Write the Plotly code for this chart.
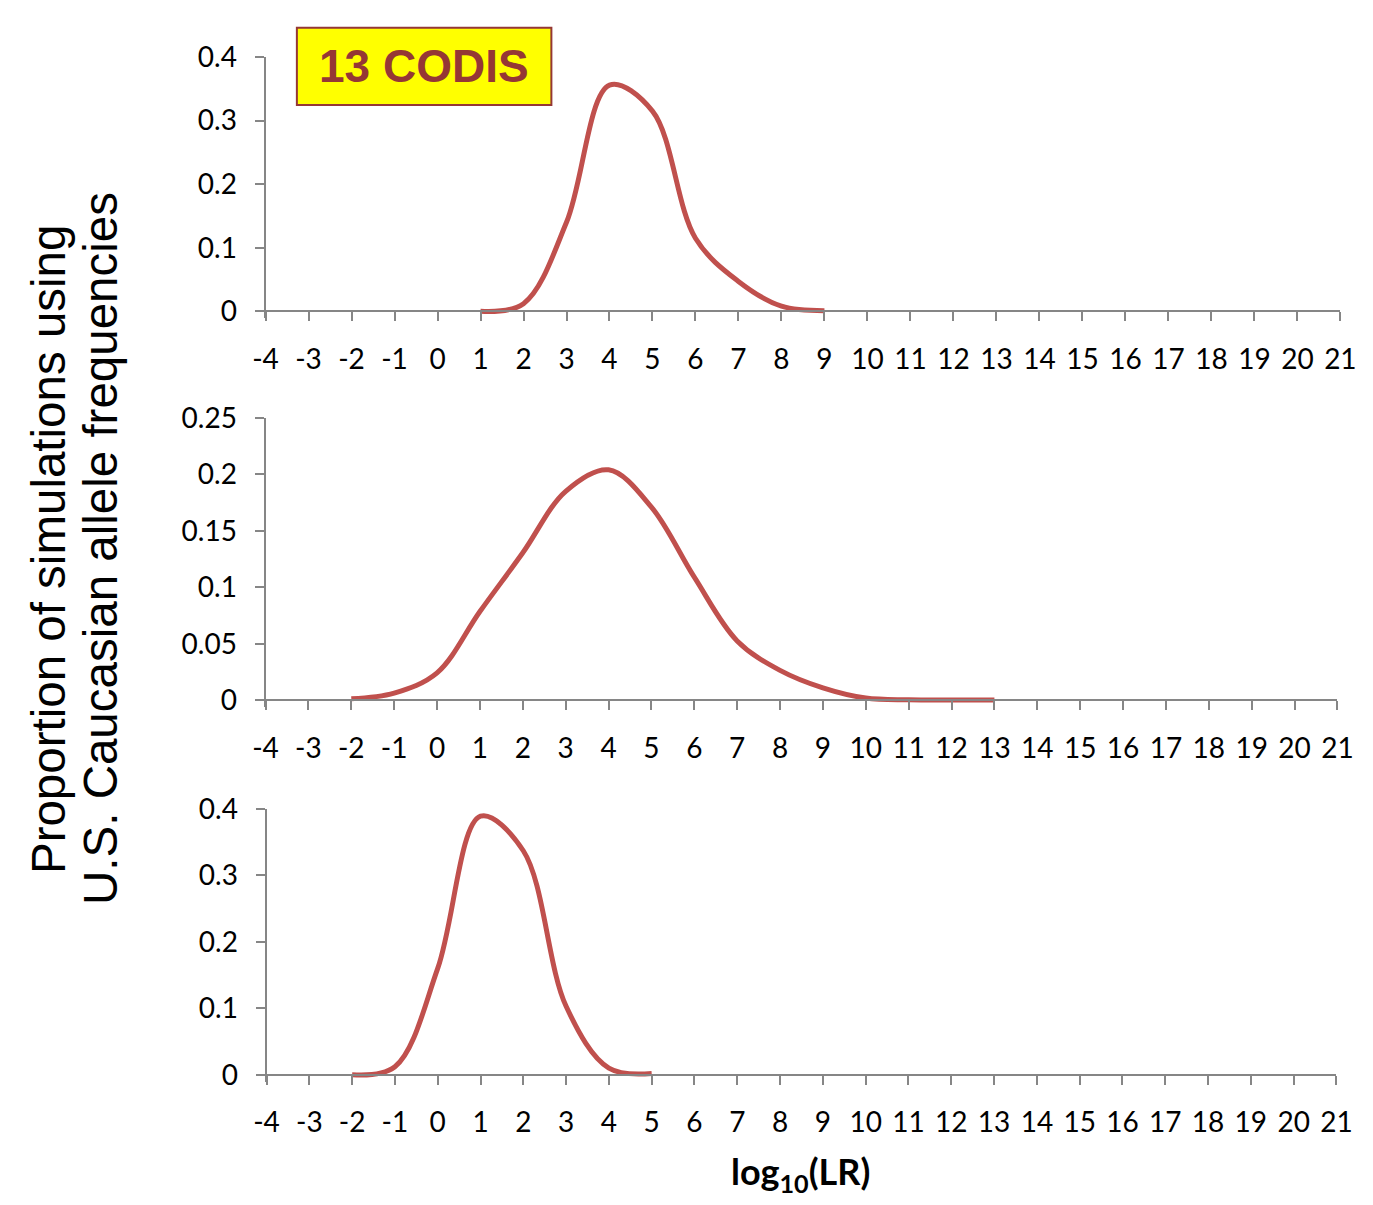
import plotly.graph_objects as go

W, H = 1373, 1205

# ---- data ----
x_top = [1, 2, 3, 4, 5, 6, 7, 8, 9]
y_top = [0.0, 0.012, 0.14, 0.356, 0.315, 0.115, 0.047, 0.008, 0.001]

x_mid = [-2, -1, 0, 1, 2, 3, 4, 5, 6, 7, 8, 9, 10, 11, 12, 13]
y_mid = [0.0014, 0.0064, 0.0243, 0.0786, 0.1306, 0.185, 0.204, 0.171, 0.109,
         0.0526, 0.0265, 0.011, 0.002, 0.0005, 0.0003, 0.0003]

x_bot = [-2, -1, 0, 1, 2, 3, 4, 5]
y_bot = [0.0, 0.012, 0.160, 0.389, 0.337, 0.103, 0.010, 0.002]

x_ticks = list(range(-4, 22))
y_ticks_top = [0, 0.1, 0.2, 0.3, 0.4]
y_ticks_mid = [0, 0.05, 0.1, 0.15, 0.2, 0.25]
y_ticks_bot = [0, 0.1, 0.2, 0.3, 0.4]

y_title_1 = "Proportion of simulations using"
y_title_2 = "U.S. Caucasian allele frequencies"
x_title = "<b>log<sub>10</sub>(LR)</b>"
badge = "<b>13 CODIS</b>"

# ---- layout geometry (pixels) ----
panels = [
    dict(xl=258, xr=1356, ytop=40, yzero=300, ymax=0.4, ticks=y_ticks_top),
    dict(xl=258, xr=1353, ytop=409, yzero=698, ymax=0.25, ticks=y_ticks_mid),
    dict(xl=259, xr=1352, ytop=809, yzero=1081, ymax=0.4, ticks=y_ticks_bot),
]
EXT = 7  # px below zero line kept inside plot area

LINE_COLOR = "#C0504D"
AXIS_COLOR = "#868686"
TICK_FONT = dict(family="Lato, Open Sans, sans-serif", size=28, color="#000000")

fig = go.Figure()
series = [(x_top, y_top), (x_mid, y_mid), (x_bot, y_bot)]
for i, (xs, ys) in enumerate(series):
    suf = "" if i == 0 else str(i + 1)
    fig.add_trace(go.Scatter(
        x=xs, y=ys, mode="lines",
        line=dict(color=LINE_COLOR, width=5, shape="spline", smoothing=1.0),
        xaxis="x" + suf, yaxis="y" + suf, showlegend=False, hoverinfo="skip",
    ))

layout = dict(
    width=W, height=H,
    margin=dict(l=0, r=0, t=0, b=0),
    paper_bgcolor="white", plot_bgcolor="white",
    showlegend=False,
)
for i, p in enumerate(panels):
    suf = "" if i == 0 else str(i + 1)
    ph = p["yzero"] - p["ytop"]
    ylow = -p["ymax"] * EXT / ph
    dom_y = [1 - (p["yzero"] + EXT) / H, 1 - p["ytop"] / H]
    dom_x = [p["xl"] / W, p["xr"] / W]
    layout["xaxis" + suf] = dict(
        domain=dom_x, range=[-4, 21], anchor="free", position=1 - p["yzero"] / H,
        tickmode="array", tickvals=x_ticks, ticktext=[str(v) for v in x_ticks],
        showline=True, linecolor=AXIS_COLOR, linewidth=2,
        ticks="outside", ticklen=9, tickwidth=2, tickcolor=AXIS_COLOR,
        showgrid=False, zeroline=False, tickfont=TICK_FONT,
        ticklabelstandoff=14,
    )
    layout["yaxis" + suf] = dict(
        domain=dom_y, range=[ylow, p["ymax"]], anchor="x" + suf,
        tickmode="array", tickvals=p["ticks"], ticktext=[f"{v:g}" for v in p["ticks"]],
        showline=True, linecolor=AXIS_COLOR, linewidth=2,
        ticks="outside", ticklen=9, tickwidth=2, tickcolor=AXIS_COLOR,
        showgrid=False, zeroline=False, tickfont=TICK_FONT,
        ticklabelstandoff=12,
    )

fig.update_layout(**layout)

# badge box
fig.add_shape(type="rect", xref="paper", yref="paper",
              x0=290 / W, x1=550 / W, y0=1 - 89 / H, y1=1 - 10 / H,
              fillcolor="#FFFF00", line=dict(color="#953735", width=2), layer="above")
fig.add_annotation(text=badge, xref="paper", yref="paper",
                   x=420 / W, y=1 - 49 / H, xanchor="center", yanchor="middle",
                   showarrow=False,
                   font=dict(family="Liberation Sans, Arial, sans-serif", size=46, color="#953735"))

# y title (two lines)
YT_FONT = dict(family="Liberation Sans, Arial, sans-serif", size=47.5, color="#000000")
fig.add_annotation(text=y_title_1, xref="paper", yref="paper",
                   x=37 / W, y=1 - 543 / H, xanchor="center", yanchor="middle",
                   textangle=-90, showarrow=False, font=YT_FONT)
fig.add_annotation(text=y_title_2, xref="paper", yref="paper",
                   x=90 / W, y=1 - 543 / H, xanchor="center", yanchor="middle",
                   textangle=-90, showarrow=False, font=YT_FONT)

# x title
fig.add_annotation(text=x_title, xref="paper", yref="paper",
                   x=805 / W, y=1 - 1182 / H, xanchor="center", yanchor="middle",
                   showarrow=False,
                   font=dict(family="Lato, Open Sans, sans-serif", size=36, color="#000000"))

fig.write_html("out.html")
